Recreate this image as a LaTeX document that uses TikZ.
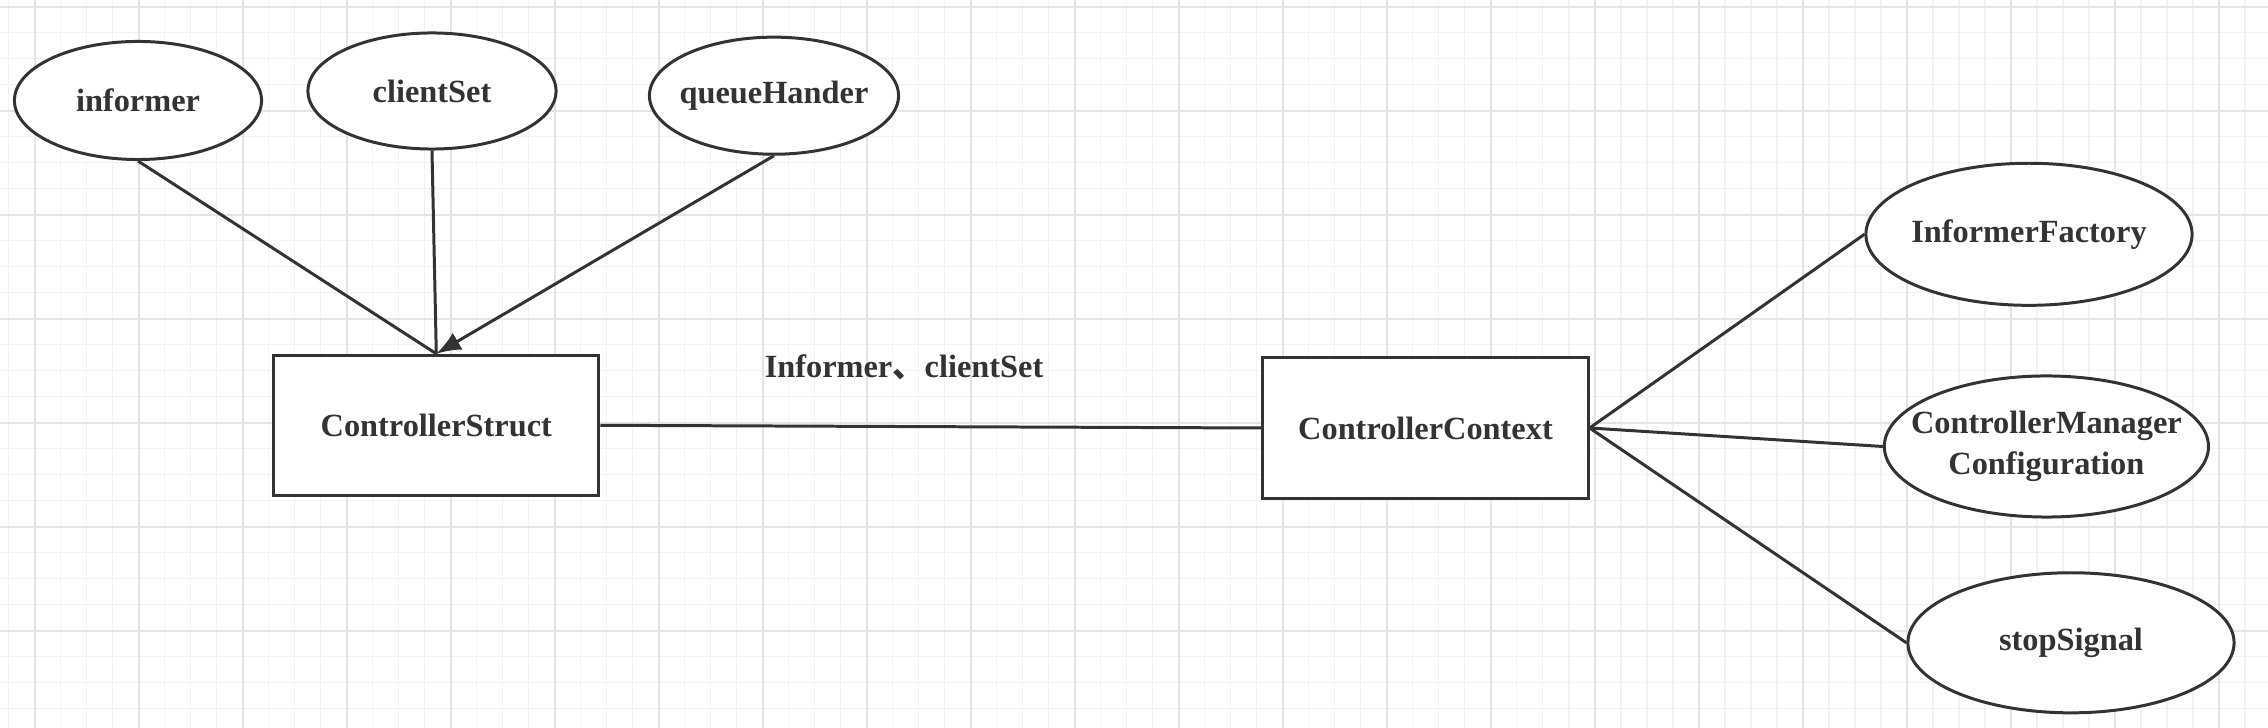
\documentclass[tikz,border=0pt]{standalone}
\usepackage{fontspec}
\setmainfont{Liberation Serif}
\newfontfamily\cjk{Noto Sans CJK SC}
\usetikzlibrary{arrows.meta, shapes.geometric}
\definecolor{ink}{RGB}{51,51,51}
\definecolor{gridlo}{RGB}{242,242,242}
\definecolor{gridhi}{RGB}{228,228,228}

\begin{document}
\begin{tikzpicture}[x=0.01cm, y=-0.01cm,
    every node/.style={font=\fontsize{9.2}{11.6}\selectfont\bfseries, text=ink},
    ent/.style={ellipse, draw=ink, line width=0.85pt, fill=white,
                inner xsep=-0.22cm, inner ysep=0pt},
    box/.style={rectangle, draw=ink, line width=0.85pt, fill=white, inner sep=0pt,
                minimum width=3.25cm, minimum height=1.40cm},
    link/.style={draw=ink, line width=0.85pt},
    minorline/.style={draw=gridlo, line width=0.45pt},
    majorline/.style={draw=gridhi, line width=0.6pt}]
\useasboundingbox[fill=white] (0,0) rectangle (2268,728);

\foreach \i in {0,...,86}
    \draw[minorline] ({8.7+26*\i},0) -- ({8.7+26*\i},728);
\foreach \i in {0,...,27}
    \draw[minorline] (0,{6.7+26*\i}) -- (2268,{6.7+26*\i});
\foreach \i in {0,...,21}
    \draw[majorline] ({34.7+104*\i},0) -- ({34.7+104*\i},728);
\foreach \i in {0,...,6}
    \draw[majorline] (0,{6.7+104*\i}) -- (2268,{6.7+104*\i});

\node[ent, minimum width=2.47cm, minimum height=1.18cm] (informer)  at (138,100.5) {informer};
\node[ent, minimum width=2.48cm, minimum height=1.16cm] (clientset) at (432,91)    {clientSet};
\node[ent, minimum width=2.49cm, minimum height=1.17cm] (queue)     at (774,95.7)  {queueHander};

\node[box] (struct) at (436.3,425.3) {ControllerStruct};
\node[box] (ctx)    at (1425.5,428)  {ControllerContext};

\node[ent, minimum width=3.26cm, minimum height=1.42cm] (factory) at (2029,234.3) {InformerFactory};
\node[ent, minimum width=3.24cm, minimum height=1.41cm, align=center] (config) at (2046.4,446.5)
    {ControllerManager\\Configuration};
\node[ent, minimum width=3.26cm, minimum height=1.40cm] (stop) at (2071,642.8) {stopSignal};

\node (share) at (904,367) {Informer{\cjk 、}clientSet};

\draw[link] (informer.south) -- (struct.north);
\draw[link] (clientset.south) -- (struct.north);
\draw[link, -{Latex[length=7pt, width=5.5pt]}] (queue.south) -- (struct.north);
\draw[link] (struct.east) -- (ctx.west);
\draw[link] (ctx.east) -- (factory.west);
\draw[link] (ctx.east) -- (config.west);
\draw[link] (ctx.east) -- (stop.west);
\end{tikzpicture}
\end{document}
